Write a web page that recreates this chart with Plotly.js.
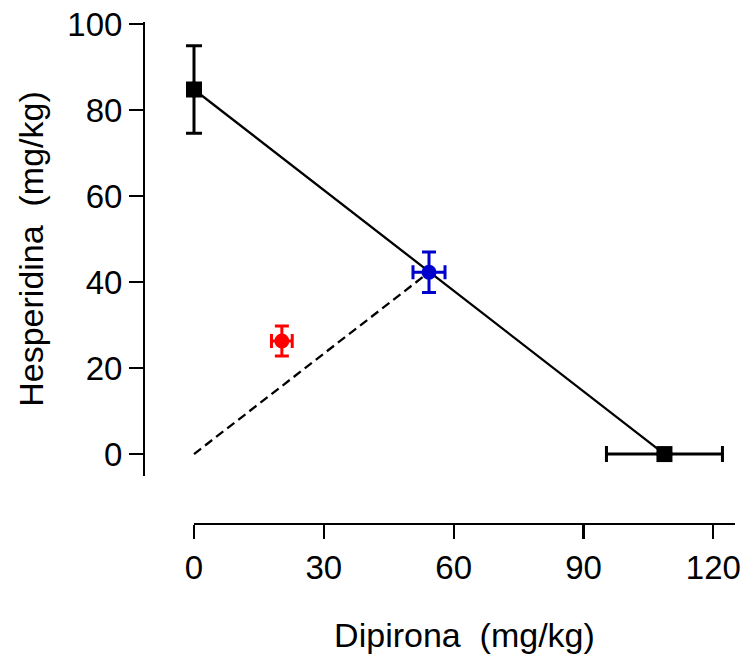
<!DOCTYPE html>
<html>
<head>
<meta charset="utf-8">
<script src="https://cdn.plot.ly/plotly-3.0.1.min.js"></script>
<style>html,body{margin:0;padding:0;background:#fff;}</style>
</head>
<body>
<div id="chart" style="width:746px;height:658px;"></div>
<script>
// Individual drugs (isobole end points)
const aloneX = [0, 108.7];
const aloneY = [84.8, 0];
const aloneXErr = [0, 13.4];
const aloneYErr = [10.2, 0];
// Theoretical additive point (blue)
const theoX = [54.3];
const theoY = [42.3];
const theoXErr = [3.7];
const theoYErr = [4.7];
// Experimental point (red)
const expX = [20.3];
const expY = [26.3];
const expXErr = [2.4];
const expYErr = [3.5];
// Dashed line from origin to theoretical point
const rayX = [0, theoX[0]];
const rayY = [0, theoY[0]];
const xTicks = [0, 30, 60, 90, 120];
const yTicks = [0, 20, 40, 60, 80, 100];

const FONT = 'Liberation Sans, Arial, sans-serif';

// Visible x axis: domain [D0, 1] with range [0, XMAX]; data axis shares the same scale
// but extends slightly to the left so marks at x=0 are not clipped.
const XMAX = 125, D0 = 0.0846, XPAD = 10;
const unitFrac = (1 - D0) / XMAX;
const dataDomainStart = D0 - XPAD * unitFrac;

const traces = [
  {x: rayX, y: rayY, xaxis: 'x', yaxis: 'y', mode: 'lines', line: {color: 'black', width: 2.3, dash: '9px,5px'}, hoverinfo: 'skip'},
  {x: aloneX, y: aloneY, xaxis: 'x', yaxis: 'y', mode: 'lines+markers', line: {color: 'black', width: 2.3},
   marker: {symbol: 'square', size: 16, color: 'black'},
   error_y: {type: 'data', array: aloneYErr, visible: true, color: 'black', thickness: 3, width: 8},
   error_x: {type: 'data', array: aloneXErr, visible: true, color: 'black', thickness: 3, width: 8}},
  {x: theoX, y: theoY, xaxis: 'x', yaxis: 'y', mode: 'markers', marker: {symbol: 'circle', size: 15, color: '#0000CC'},
   error_y: {type: 'data', array: theoYErr, visible: true, color: '#0000CC', thickness: 3, width: 7},
   error_x: {type: 'data', array: theoXErr, visible: true, color: '#0000CC', thickness: 3, width: 7}},
  {x: expX, y: expY, xaxis: 'x2', yaxis: 'y', mode: 'markers', marker: {symbol: 'circle', size: 15, color: '#FF0000'},
   error_y: {type: 'data', array: expYErr, visible: true, color: '#FF0000', thickness: 3, width: 7},
   error_x: {type: 'data', array: expXErr, visible: true, color: '#FF0000', thickness: 3, width: 7}}
];

const layout = {
  width: 746, height: 658,
  margin: {l: 144, r: 11, t: 22, b: 134, pad: 0},
  paper_bgcolor: 'white', plot_bgcolor: 'rgba(0,0,0,0)',
  showlegend: false,
  font: {family: FONT, color: 'black'},
  xaxis: {
    domain: [dataDomainStart, 1], range: [-XPAD, XMAX], anchor: 'free', position: 0,
    showline: false, showgrid: false, zeroline: false, showticklabels: false, ticks: ''
  },
  xaxis2: {
    domain: [D0, 1], range: [0, XMAX], anchor: 'free', position: 0,
    showline: true, linewidth: 2.2, linecolor: 'black',
    ticks: 'outside', ticklen: 14, tickwidth: 2.2, tickcolor: 'black',
    tickvals: xTicks, ticktext: xTicks.map(String),
    showgrid: false, zeroline: false,
    tickfont: {family: FONT, size: 33, color: 'black'},
    title: {text: 'Dipirona\u00a0 (mg/kg)', font: {family: FONT, size: 34, color: 'black'}, standoff: 38}
  },
  yaxis: {
    domain: [0.0956, 1], range: [-5.1, 100.5], anchor: 'free', position: 0,
    showline: true, linewidth: 2.2, linecolor: 'black',
    ticks: 'outside', ticklen: 14, tickwidth: 2.2, tickcolor: 'black',
    tickvals: yTicks, ticktext: yTicks.map(String),
    showgrid: false, zeroline: false,
    tickfont: {family: FONT, size: 33, color: 'black'},
    title: {text: 'Hesperidina\u00a0 (mg/kg)', font: {family: FONT, size: 34, color: 'black'}, standoff: 12}
  }
};

Plotly.newPlot('chart', traces, layout, {staticPlot: true, displayModeBar: false});
</script>
</body>
</html>
